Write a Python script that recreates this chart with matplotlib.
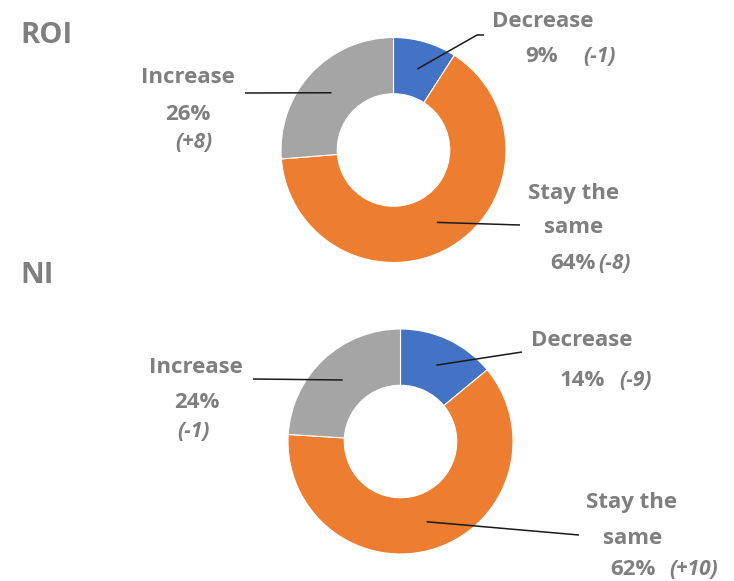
import matplotlib
matplotlib.use("Agg")
import matplotlib.pyplot as plt
import numpy as np

W, H = 734, 581

categories = ["Decrease", "Stay the same", "Increase"]
roi_values = [9, 64, 26]
roi_changes = ["(-1)", "(-8)", "(+8)"]
ni_values = [14, 62, 24]
ni_changes = ["(-9)", "(+10)", "(-1)"]
colors = ["#4472C4", "#ED7D31", "#A5A5A5"]
titles = ["ROI", "NI"]

TXT = "#7F7F7F"
FONT = "Open Sans"
CH = 15

fig = plt.figure(figsize=(W / 100, H / 100), dpi=100)
ax = fig.add_axes([0, 0, 1, 1])


def Y(y):
    return H - y


def donut(values, cx, cy, R):
    wedges, _ = ax.pie(values, colors=colors, startangle=90, counterclock=False,
                       radius=R, center=(cx, Y(cy)),
                       wedgeprops=dict(width=R * 0.5, edgecolor="white", linewidth=0.8))
    mids = []
    for w in wedges:
        a = np.deg2rad((w.theta1 + w.theta2) / 2)
        r = R * 0.75
        mids.append((cx + r * np.cos(a), Y(cy) + r * np.sin(a)))
    return mids


def leader(p0, pts):
    xs = [p0[0]] + [p[0] for p in pts]
    ys = [p0[1]] + [Y(p[1]) for p in pts]
    ax.plot(xs, ys, color="#1a1a1a", lw=1.1, solid_capstyle="butt")


def txt(x, y, s, ha="center", size=16, style="normal", weight="bold"):
    ax.text(x, Y(y), s, ha=ha, va="baseline", fontsize=size, color=TXT,
            family=FONT, fontstyle=style, fontweight=weight)


# ROI
m = donut(roi_values, 393.5, 150, 112.5)
leader(m[0], [(477, 35), (484, 35)])
leader(m[1], [(520, 225)])
leader(m[2], [(245, 93)])
txt(20, 43, titles[0], ha="left", size=21)
txt(188, 83, categories[2])
txt(188, 120, f"{roi_values[2]}%")
txt(194, 148, roi_changes[2], size=CH, style="italic")
txt(543, 27, categories[0])
txt(525, 62, f"{roi_values[0]}%", ha="left")
txt(583, 62, roi_changes[0], ha="left", size=CH, style="italic")
txt(574, 199, "Stay the")
txt(574, 233, "same")
txt(550, 269, f"{roi_values[1]}%", ha="left")
txt(598, 269, roi_changes[1], ha="left", size=CH, style="italic")

# NI
m = donut(ni_values, 400.5, 441.5, 112.5)
leader(m[0], [(522, 352)])
leader(m[1], [(579, 535)])
leader(m[2], [(253, 379)])
txt(20, 283, titles[1], ha="left", size=21)
txt(196, 373, categories[2])
txt(197, 408, f"{ni_values[2]}%")
txt(193, 437, ni_changes[2], size=CH, style="italic")
txt(582, 346, categories[0])
txt(560, 386, f"{ni_values[0]}%", ha="left")
txt(619, 386, ni_changes[0], ha="left", size=CH, style="italic")
txt(632, 508, "Stay the")
txt(633, 544, "same")
txt(610, 575, f"{ni_values[1]}%", ha="left")
txt(669, 575, ni_changes[1], ha="left", size=CH, style="italic")

ax.set_xlim(0, W)
ax.set_ylim(0, H)
ax.set_aspect("equal")
ax.axis("off")
fig.savefig("out.png", dpi=100, facecolor="white")
